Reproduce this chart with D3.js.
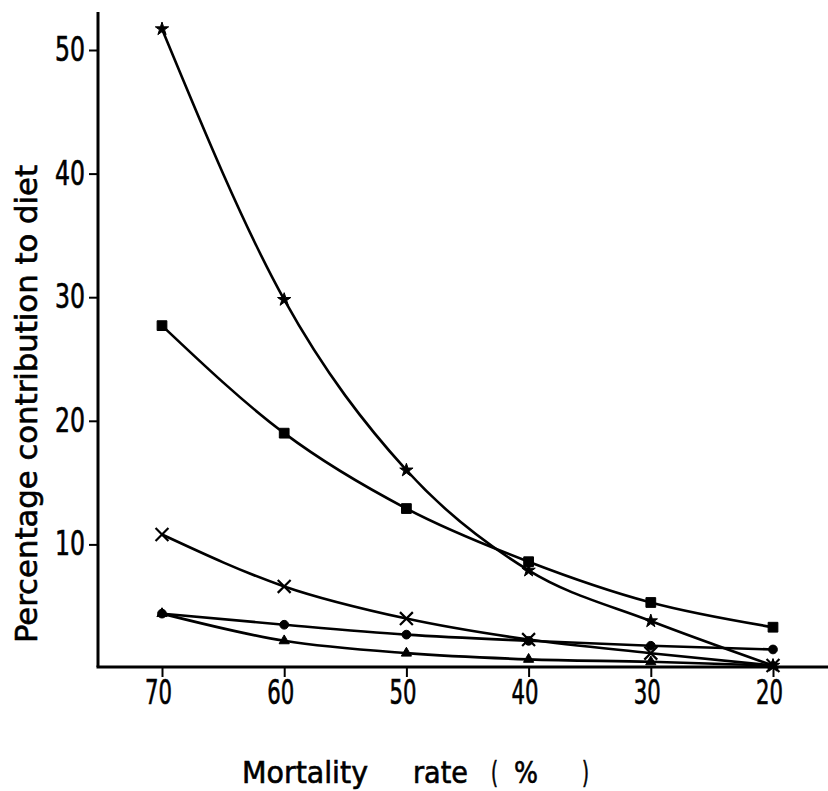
<!DOCTYPE html>
<html>
<head>
<meta charset="utf-8">
<script src="https://cdn.jsdelivr.net/npm/d3@7"></script>
<style>
  body { margin: 0; background: #fff; }
  svg text { font-family: "DejaVu Sans Condensed", "DejaVu Sans", sans-serif; fill: #000; stroke: #000; stroke-width: 0.6px; }
</style>
</head>
<body>
<svg id="chart" width="828" height="791"></svg>
<script>
// mortality rate (%) on the x axis, read right to left
var rates = [70, 60, 50, 40, 30, 20];
var y_ticks = [10, 20, 30, 40, 50];

// percentage contribution to diet, one array per curve
var star_values     = [51.7, 29.8, 16.0, 7.9, 3.8, 0.2];
var square_values   = [27.7, 19.0, 12.9, 8.6, 5.3, 3.3];
var cross_values    = [10.8, 6.6, 4.0, 2.3, 1.2, 0.2];
var circle_values   = [4.4, 3.5, 2.7, 2.2, 1.8, 1.5];
var triangle_values = [4.4, 2.2, 1.2, 0.7, 0.5, 0.2];

var series = [
  {name: 'star', values: star_values, symbol: d3.symbolStar, size: 55, filled: true},
  {name: 'square', values: square_values, symbol: d3.symbolSquare, size: 95, filled: true},
  {name: 'cross', values: cross_values, symbol: d3.symbolX, size: 110, filled: false},
  {name: 'circle', values: circle_values, symbol: d3.symbolCircle, size: 60, filled: true},
  {name: 'triangle', values: triangle_values, symbol: d3.symbolTriangle, size: 45, filled: true}
];

var svg = d3.select('#chart');

var x = d3.scaleLinear().domain([70, 20]).range([162, 773]);
var y = d3.scaleLinear().domain([0, 50]).range([668, 50]);

var x_left = 98, x_right = 828, y_top = 12, y_base = 667;

// axes lines
svg.append('line')
   .attr('x1', x_left).attr('x2', x_left)
   .attr('y1', y_top).attr('y2', y_base)
   .attr('stroke', '#000').attr('stroke-width', 3);

svg.append('line')
   .attr('x1', x_left - 1.5).attr('x2', x_right)
   .attr('y1', y_base).attr('y2', y_base)
   .attr('stroke', '#000').attr('stroke-width', 3);

// y ticks
var y_axis = svg.append('g')
   .attr('transform', 'translate(' + x_left + ',0)')
   .call(d3.axisLeft(y).tickValues(y_ticks).tickSize(9).tickPadding(4));

y_axis.select('.domain').remove();
y_axis.selectAll('line').attr('stroke', '#000').attr('stroke-width', 2);
y_axis.selectAll('text')
      .style('font-size', '33px')
      .attr('textLength', 30)
      .attr('lengthAdjust', 'spacingAndGlyphs')
      .attr('font-family', null);

// x ticks
var x_axis = svg.append('g')
   .attr('transform', 'translate(0,' + y_base + ')')
   .call(d3.axisBottom(x).tickValues(rates).tickSize(10).tickPadding(4));

x_axis.select('.domain').remove();
x_axis.selectAll('line').attr('stroke', '#000').attr('stroke-width', 2);
x_axis.selectAll('text')
      .style('font-size', '33px')
      .attr('textLength', 27)
      .attr('lengthAdjust', 'spacingAndGlyphs')
      .attr('dx', -4)
      .attr('font-family', null);

// axis titles
svg.append('text')
   .text('Percentage contribution to diet')
   .attr('transform', 'translate(37,' + 404 + ') rotate(-90)')
   .attr('text-anchor', 'middle')
   .attr('textLength', 478)
   .attr('lengthAdjust', 'spacingAndGlyphs')
   .style('font-size', '31px');

var x_title = svg.append('text')
   .attr('y', 783)
   .style('font-size', '31px');

[['Mortality', 242, 126], ['rate', 413, 55], ['(', 491, 7], ['%', 514, 24], [')', 582, 7]]
  .forEach(w => {
    x_title.append('tspan')
           .attr('x', w[1])
           .attr('textLength', w[2])
           .attr('lengthAdjust', 'spacingAndGlyphs')
           .text(w[0]);
  });

// curves
var line = d3.line()
   .x((d, i) => x(rates[i]))
   .y(d => y(d))
   .curve(d3.curveMonotoneX);

series.forEach(s => {
  svg.append('path')
     .datum(s.values)
     .attr('fill', 'none')
     .attr('stroke', '#000')
     .attr('stroke-width', 2.6)
     .attr('d', line);

  svg.append('g')
     .selectAll('path')
     .data(s.values)
     .enter()
     .append('path')
     .attr('transform', (d, i) => 'translate(' + x(rates[i]) + ',' + y(d) + ')')
     .attr('d', d3.symbol().type(s.symbol).size(s.size))
     .attr('fill', s.filled ? '#000' : 'none')
     .attr('stroke', '#000')
     .attr('stroke-width', s.filled ? 1 : 2.2);
});
</script>
</body>
</html>
